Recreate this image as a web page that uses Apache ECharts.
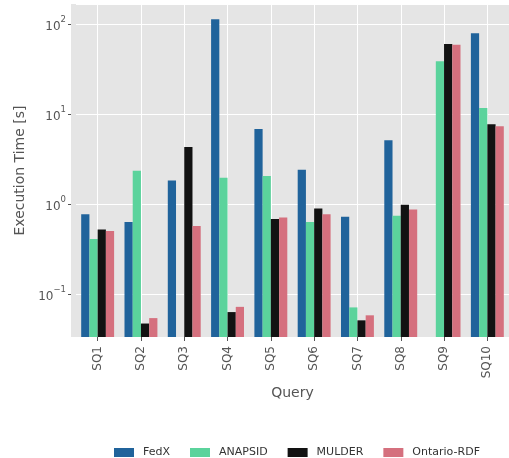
<!DOCTYPE html>
<html>
<head>
<meta charset="utf-8">
<script src="https://cdn.jsdelivr.net/npm/echarts@6/dist/echarts.min.js"></script>
<style>
  html, body { margin: 0; padding: 0; background: #fff; }
  #chart { width: 509px; height: 458px; }
</style>
</head>
<body>
<div id="chart"></div>
<script>
var chart = echarts.init(document.getElementById("chart"));

// Abfragen und Laufzeiten in Sekunden
let queries = ["SQ1", "SQ2", "SQ3", "SQ4", "SQ5", "SQ6", "SQ7", "SQ8", "SQ9", "SQ10"];
let fedx = [0.77, 0.63, 1.83, 113, 6.8, 2.4, 0.72, 5.1, null, 79];
let anapsid = [0.41, 2.35, null, 1.96, 2.05, 0.63, 0.071, 0.74, 38.5, 11.7];
let mulder = [0.52, 0.047, 4.3, 0.063, 0.68, 0.89, 0.051, 0.98, 60, 7.7];
let ontario = [0.50, 0.054, 0.57, 0.072, 0.71, 0.77, 0.058, 0.87, 59, 7.3];

let seriesNames = ["FedX", "ANAPSID", "MULDER", "Ontario-RDF"];
let seriesColors = ["#20639b", "#5bd39c", "#121212", "#d5707e"];

let yMin = 0.0333;
let yMax = 167;

function powLabel(v) {
  let e = Math.log10(v);
  let r = Math.round(e);
  if (Math.abs(e - r) > 1e-6) return "";
  return "{b|10}{s|" + String(r).replace("-", "\u2212") + "}";
}

let font = "DejaVu Sans";
let textCol = "#555555";

chart.setOption({
  animation: false,
  graphic: [
    {
      type: "rect",
      z: -10,
      shape: { x: 71, y: 4, width: 440, height: 333 },
      style: { fill: "#e5e5e5" }
    }
  ],
  grid: {
    left: 76,
    top: 4,
    width: 437,
    bottom: 121
  },
  legend: {
    data: seriesNames,
    left: 109,
    top: 442,
    icon: "rect",
    itemWidth: 20,
    itemHeight: 9,
    itemGap: 20,
    textStyle: { fontFamily: font, fontSize: 11, color: "#333", padding: [0, 0, 0, 4] }
  },
  xAxis: {
    type: "category",
    data: queries,
    name: "Query",
    nameLocation: "middle",
    nameGap: 49,
    nameTextStyle: { fontFamily: font, fontSize: 14, color: textCol },
    axisLine: { show: false },
    axisTick: { show: true, alignWithLabel: true, length: 4, lineStyle: { color: textCol } },
    axisLabel: { rotate: 90, margin: 9, fontFamily: font, fontSize: 12, color: textCol },
    splitLine: { show: true, alignWithLabel: true, lineStyle: { color: "#ffffff", width: 1 } }
  },
  yAxis: {
    type: "log",
    logBase: 10,
    min: yMin,
    max: yMax,
    startValue: yMin,
    offset: 5,
    name: "Execution Time [s]",
    nameLocation: "middle",
    nameGap: 44,
    nameTextStyle: { fontFamily: font, fontSize: 14, color: textCol },
    axisLine: { show: false },
    axisTick: { show: true, length: 3, lineStyle: { color: textCol } },
    axisLabel: {
      margin: 5,
      fontFamily: font,
      fontSize: 12,
      color: textCol,
      showMinLabel: false,
      showMaxLabel: false,
      formatter: powLabel,
      rich: {
        b: { fontFamily: font, fontSize: 12, color: textCol, lineHeight: 18, verticalAlign: "bottom" },
        s: { fontFamily: font, fontSize: 8.5, color: textCol, lineHeight: 18, verticalAlign: "top", padding: [0, 0, 8, 0] }
      }
    },
    splitLine: { show: true, lineStyle: { color: "#ffffff", width: 1 } }
  },
  series: [fedx, anapsid, mulder, ontario].map((d, i) => ({
    name: seriesNames[i],
    type: "bar",
    data: d,
    barGap: "0%",
    barCategoryGap: "24%",
    itemStyle: { color: seriesColors[i] }
  }))
});
</script>
</body>
</html>
